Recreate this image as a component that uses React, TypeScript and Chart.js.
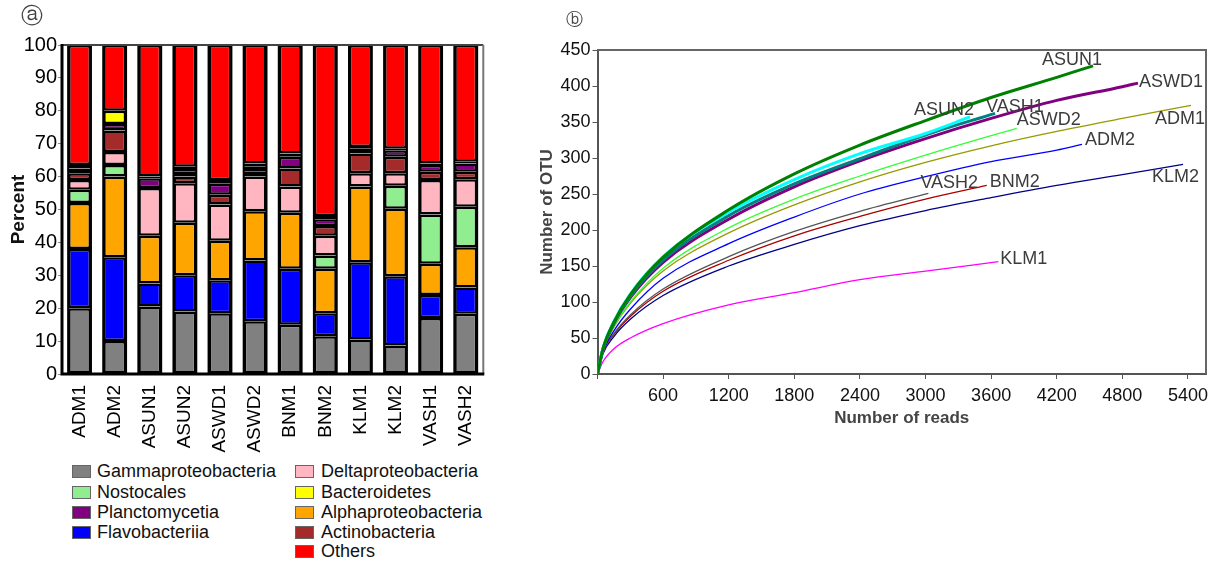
import React, { useEffect, useRef } from 'react';
import { Chart, registerables } from 'chart.js';
Chart.register(...registerables);

const FONT = "'Liberation Sans', Arial, sans-serif";
Chart.defaults.font.family = FONT;

// ---------- Panel a: stacked composition ----------
const samples = ['ADM1', 'ADM2', 'ASUN1', 'ASUN2', 'ASWD1', 'ASWD2', 'BNM1', 'BNM2', 'KLM1', 'KLM2', 'VASH1', 'VASH2'];
const gammaproteobacteria = [20, 10, 20.5, 19, 18.5, 16, 15, 11.5, 10.5, 8.7, 17, 18.3];
const flavobacteriia = [18, 25.5, 7, 11, 10, 18.5, 17, 7, 23.5, 21, 7, 8];
const alphaproteobacteria = [14, 24.5, 14.5, 16, 12, 15, 17, 13.5, 23, 20.5, 9.5, 12.2];
const nostocales = [4, 3.5, 0, 0, 0, 0, 0, 4, 0, 7, 15, 12.3];
const deltaproteobacteria = [3, 4, 14.5, 12, 11, 10.5, 8, 6, 4, 3.8, 10.5, 8.4];
const actinobacteria = [2, 6.5, 0, 2, 3, 1.5, 5.5, 3, 6, 5, 2.5, 2.3];
const planctomycetia = [1.5, 2, 3, 1.5, 3.3, 1.5, 3.5, 2, 1.5, 2, 2, 2.5];
const bacteroidetes = [1, 4, 0.5, 1.5, 1.2, 1, 1, 1, 0.5, 0.5, 0.5, 0.5];
const othersGroup = [36.5, 20, 40, 37, 41, 36, 33, 52, 31, 31.5, 36, 35.5];
const percentTicks = [0, 10, 20, 30, 40, 50, 60, 70, 80, 90, 100];

const taxa = [
  { name: 'Gammaproteobacteria', values: gammaproteobacteria, color: '#808080' },
  { name: 'Flavobacteriia', values: flavobacteriia, color: '#0000ff' },
  { name: 'Alphaproteobacteria', values: alphaproteobacteria, color: '#ffa500' },
  { name: 'Nostocales', values: nostocales, color: '#90ee90' },
  { name: 'Deltaproteobacteria', values: deltaproteobacteria, color: '#ffb6c1' },
  { name: 'Actinobacteria', values: actinobacteria, color: '#a52a2a' },
  { name: 'Planctomycetia', values: planctomycetia, color: '#800080' },
  { name: 'Bacteroidetes', values: bacteroidetes, color: '#ffff00' },
  { name: 'Others', values: othersGroup, color: '#ff0000' },
];
const legendCol1 = ['Gammaproteobacteria', 'Nostocales', 'Planctomycetia', 'Flavobacteriia'];
const legendCol2 = ['Deltaproteobacteria', 'Bacteroidetes', 'Alphaproteobacteria', 'Actinobacteria', 'Others'];

// ---------- Panel b: rarefaction curves ----------
const readTicks = [0, 600, 1200, 1800, 2400, 3000, 3600, 4200, 4800, 5400];
const otuTicks = [0, 50, 100, 150, 200, 250, 300, 350, 400, 450];

const asun1Reads = [0, 50, 150, 300, 600, 1200, 1800, 2400, 3000, 3600, 4200, 4532];
const asun1Otu = [0, 35, 72, 110, 162, 228, 278, 318, 352, 384, 412, 428];
const asun2Reads = [0, 50, 150, 300, 600, 1200, 1800, 2400, 3000, 3407];
const asun2Otu = [0, 36, 73, 111, 163, 225, 270, 306, 334, 357];
const vash1Reads = [0, 50, 150, 300, 600, 1200, 1800, 2400, 3000, 3636];
const vash1Otu = [0, 35, 71, 108, 158, 220, 264, 299, 332, 362];
const aswd1Reads = [0, 50, 150, 300, 600, 1200, 1800, 2400, 3000, 3600, 4200, 4800, 4943];
const aswd1Otu = [0, 34, 70, 106, 155, 215, 260, 296, 327, 355, 380, 399, 404];
const aswd2Reads = [0, 50, 150, 300, 600, 1200, 1800, 2400, 3000, 3600, 3834];
const aswd2Otu = [0, 33, 66, 100, 147, 203, 243, 275, 304, 331, 341];
const adm1Reads = [0, 50, 150, 300, 600, 1200, 1800, 2400, 3000, 3600, 4200, 4800, 5428];
const adm1Otu = [0, 33, 65, 98, 143, 196, 235, 267, 294, 317, 337, 355, 373];
const adm2Reads = [0, 50, 150, 300, 600, 1200, 1800, 2400, 3000, 3600, 4200, 4431];
const adm2Otu = [0, 31, 60, 90, 133, 181, 218, 250, 274, 295, 311, 319];
const vash2Reads = [0, 50, 150, 300, 600, 1200, 1800, 2400, 3026];
const vash2Otu = [0, 30, 56, 82, 118, 163, 198, 226, 251];
const bnm2Reads = [0, 50, 150, 300, 600, 1200, 1800, 2400, 3000, 3560];
const bnm2Otu = [0, 30, 55, 80, 115, 158, 192, 219, 243, 262];
const klm2Reads = [0, 50, 150, 300, 600, 1200, 1800, 2400, 3000, 3600, 4200, 4800, 5355];
const klm2Otu = [0, 28, 52, 76, 109, 150, 180, 206, 227, 245, 262, 277, 291];
const klm1Reads = [0, 50, 150, 300, 600, 1200, 1800, 2400, 3000, 3666];
const klm1Otu = [0, 17, 35, 50, 70, 96, 113, 131, 143, 156];

const curves = [
  { name: 'ASUN1', reads: asun1Reads, otu: asun1Otu, color: '#008000', width: 3 },
  { name: 'ASUN2', reads: asun2Reads, otu: asun2Otu, color: '#00ffff', width: 3 },
  { name: 'VASH1', reads: vash1Reads, otu: vash1Otu, color: '#008080', width: 3 },
  { name: 'ASWD1', reads: aswd1Reads, otu: aswd1Otu, color: '#800080', width: 3 },
  { name: 'ASWD2', reads: aswd2Reads, otu: aswd2Otu, color: '#33ff33', width: 1.3 },
  { name: 'ADM1', reads: adm1Reads, otu: adm1Otu, color: '#999900', width: 1.3 },
  { name: 'ADM2', reads: adm2Reads, otu: adm2Otu, color: '#0000ff', width: 1.3 },
  { name: 'VASH2', reads: vash2Reads, otu: vash2Otu, color: '#555555', width: 1.3 },
  { name: 'BNM2', reads: bnm2Reads, otu: bnm2Otu, color: '#aa0000', width: 1.3 },
  { name: 'KLM2', reads: klm2Reads, otu: klm2Otu, color: '#000088', width: 1.3 },
  { name: 'KLM1', reads: klm1Reads, otu: klm1Otu, color: '#ff00ff', width: 1.3 },
];

// label placement relative to each curve's last point (style only)
const labelStyle: Record<string, { dx: number; dy: number; align: CanvasTextAlign }> = {
  ASUN1: { dx: -21, dy: -6, align: 'center' },
  ASUN2: { dx: 4, dy: -7, align: 'right' },
  VASH1: { dx: -9, dy: -6, align: 'left' },
  ASWD1: { dx: 1, dy: -1, align: 'left' },
  ASWD2: { dx: 0, dy: -8, align: 'left' },
  ADM1: { dx: 14, dy: 14, align: 'right' },
  ADM2: { dx: 3, dy: -4, align: 'left' },
  VASH2: { dx: -8, dy: -10, align: 'left' },
  BNM2: { dx: 3, dy: -3, align: 'left' },
  KLM2: { dx: 16, dy: 13, align: 'right' },
  KLM1: { dx: 2, dy: -3, align: 'left' },
};

const barFrame = {
  id: 'barFrame',
  afterDatasetsDraw(chart: any) {
    const { ctx, chartArea: a } = chart;
    ctx.save();
    // outer outline of every stacked column
    const first = chart.getDatasetMeta(0).data;
    const last = chart.getDatasetMeta(chart.data.datasets.length - 1).data;
    ctx.strokeStyle = '#000';
    ctx.lineWidth = 2;
    first.forEach((b: any, i: number) => {
      const top = last[i];
      if (!top) return;
      const w = b.width;
      ctx.strokeRect(b.x - w / 2, top.y, w, b.base - top.y);
    });
    ctx.lineWidth = 2;
    ctx.strokeStyle = '#444';
    ctx.beginPath();
    ctx.moveTo(a.left, a.top);
    ctx.lineTo(a.right, a.top);
    ctx.stroke();
    ctx.strokeStyle = '#777';
    ctx.beginPath();
    ctx.moveTo(a.right, a.top);
    ctx.lineTo(a.right, a.bottom);
    ctx.stroke();
    ctx.lineWidth = 3;
    ctx.strokeStyle = '#000';
    ctx.beginPath();
    ctx.moveTo(a.left, a.top - 1);
    ctx.lineTo(a.left, a.bottom);
    ctx.lineTo(a.right + 1, a.bottom);
    ctx.stroke();
    ctx.restore();
  },
};

const lineFrame = {
  id: 'lineFrame',
  afterDatasetsDraw(chart: any) {
    const { ctx, chartArea: a } = chart;
    ctx.save();
    ctx.lineWidth = 2;
    ctx.strokeStyle = '#666';
    ctx.beginPath();
    ctx.moveTo(a.left, a.top);
    ctx.lineTo(a.right, a.top);
    ctx.lineTo(a.right, a.bottom);
    ctx.stroke();
    ctx.restore();
  },
};

const endLabels = {
  id: 'endLabels',
  afterDatasetsDraw(chart: any) {
    const ctx = chart.ctx;
    ctx.save();
    ctx.font = `18px ${FONT}`;
    ctx.fillStyle = '#3c3c3c';
    ctx.textBaseline = 'middle';
    chart.data.datasets.forEach((ds: any, i: number) => {
      const meta = chart.getDatasetMeta(i);
      const pt = meta.data[meta.data.length - 1];
      const st = labelStyle[ds.label];
      if (!pt || !st) return;
      ctx.textAlign = st.align;
      ctx.fillText(ds.label, pt.x + st.dx, pt.y + st.dy);
    });
    ctx.restore();
  },
};

export default function App() {
  const barRef = useRef<HTMLCanvasElement>(null);
  const lineRef = useRef<HTMLCanvasElement>(null);

  useEffect(() => {
    const bar = new Chart(barRef.current as HTMLCanvasElement, {
      type: 'bar',
      data: {
        labels: samples,
        datasets: taxa.map((t) => ({
          label: t.name,
          data: t.values,
          backgroundColor: t.color,
          borderColor: '#000',
          borderWidth: 2.5,
          borderSkipped: false,
          inflateAmount: 0,
          barPercentage: 0.65,
          categoryPercentage: 1,
        })),
      },
      options: {
        responsive: false,
        animation: false,
        layout: { padding: { top: 45, right: 11, left: 0, bottom: 0 } },
        plugins: { legend: { display: false }, tooltip: { enabled: false } },
        scales: {
          x: {
            stacked: true,
            grid: { display: false, drawTicks: false },
            border: { display: false },
            ticks: { color: '#000', font: { size: 19 }, maxRotation: 90, minRotation: 90, padding: 11, autoSkip: false },
            afterFit: (s: any) => { s.height = 86; },
          },
          y: {
            stacked: true,
            min: 0,
            max: 100,
            afterBuildTicks: (s: any) => { s.ticks = percentTicks.map((v) => ({ value: v })); },
            grid: { display: true, drawOnChartArea: false, drawTicks: true, tickLength: 4, color: '#888' },
            border: { display: false },
            ticks: { color: '#000', font: { size: 20 }, padding: 1 },
            title: { display: true, text: 'Percent', color: '#111', font: { size: 19, weight: 'bold' }, padding: { top: 7, bottom: 0 } },
            afterFit: (s: any) => { s.width = 62; },
          },
        },
      } as any,
      plugins: [barFrame],
    });

    const line = new Chart(lineRef.current as HTMLCanvasElement, {
      type: 'line',
      data: {
        datasets: curves.map((c) => ({
          label: c.name,
          data: c.reads.map((r, i) => ({ x: r, y: c.otu[i] })),
          borderColor: c.color,
          backgroundColor: c.color,
          borderWidth: c.width,
          pointRadius: 0,
          fill: false,
          tension: 0.4,
          cubicInterpolationMode: 'monotone',
        })),
      },
      options: {
        responsive: false,
        animation: false,
        layout: { padding: { top: 50, right: 18, left: 0, bottom: 0 } },
        plugins: { legend: { display: false }, tooltip: { enabled: false } },
        scales: {
          x: {
            type: 'linear',
            min: 0,
            max: 5565,
            afterBuildTicks: (s: any) => { s.ticks = readTicks.map((v) => ({ value: v })); },
            ticks: { color: '#111', font: { size: 18 }, padding: 6, maxRotation: 0, autoSkip: false, callback: (v: any) => (v === 0 ? '' : String(v)) },
            grid: { display: true, drawOnChartArea: false, drawTicks: true, tickLength: 5, color: '#555' },
            border: { display: true, color: '#555', width: 2 },
            title: { display: true, text: 'Number of reads', color: '#444', font: { size: 17, weight: 'bold' }, padding: { top: 0, bottom: 11 } },
            afterFit: (s: any) => { s.height = 66; },
          },
          y: {
            min: 0,
            max: 450,
            afterBuildTicks: (s: any) => { s.ticks = otuTicks.map((v) => ({ value: v })); },
            ticks: { color: '#111', font: { size: 18 }, padding: 2 },
            grid: { display: true, drawOnChartArea: false, drawTicks: true, tickLength: 5, color: '#555' },
            border: { display: true, color: '#555', width: 2 },
            title: { display: true, text: 'Number of OTU', color: '#444', font: { size: 17, weight: 'bold' }, padding: { top: 7, bottom: 0 } },
            afterFit: (s: any) => { s.width = 67.5; },
          },
        },
      } as any,
      plugins: [lineFrame, endLabels],
    });

    return () => {
      bar.destroy();
      line.destroy();
    };
  }, []);

  const colorOf = (n: string) => (taxa.find((t) => t.name === n) || { color: '#000' }).color;
  const rowTops = [471, 491.5, 512, 532, 551];

  const legendItem = (name: string, i: number, boxLeft: number, textLeft: number) => (
    <React.Fragment key={name}>
      <div style={{ position: 'absolute', left: boxLeft, top: rowTops[i] - 6, width: 17, height: 11, background: colorOf(name), border: '1px solid #666' }} />
      <div style={{ position: 'absolute', left: textLeft, top: rowTops[i] - 11, fontSize: 18, lineHeight: '22px', color: '#111', whiteSpace: 'nowrap', fontFamily: FONT }}>{name}</div>
    </React.Fragment>
  );

  return (
    <div style={{ position: 'absolute', left: 0, top: 0, width: 1224, height: 562, background: '#fff', overflow: 'hidden' }}>
      <canvas ref={barRef} width={500} height={460} style={{ position: 'absolute', left: 0, top: 0 }} />
      <canvas ref={lineRef} width={694} height={440} style={{ position: 'absolute', left: 530, top: 0 }} />
      <div style={{ position: 'absolute', left: 21, top: 3, fontSize: 22, lineHeight: '26px', color: '#444', fontFamily: "'DejaVu Sans', sans-serif" }}>ⓐ</div>
      <div style={{ position: 'absolute', left: 566, top: 9, fontSize: 17, lineHeight: '20px', color: '#444', fontFamily: "'DejaVu Sans', sans-serif" }}>ⓑ</div>
      {legendCol1.map((n, i) => legendItem(n, i, 72, 97))}
      {legendCol2.map((n, i) => legendItem(n, i, 295, 321))}
    </div>
  );
}
